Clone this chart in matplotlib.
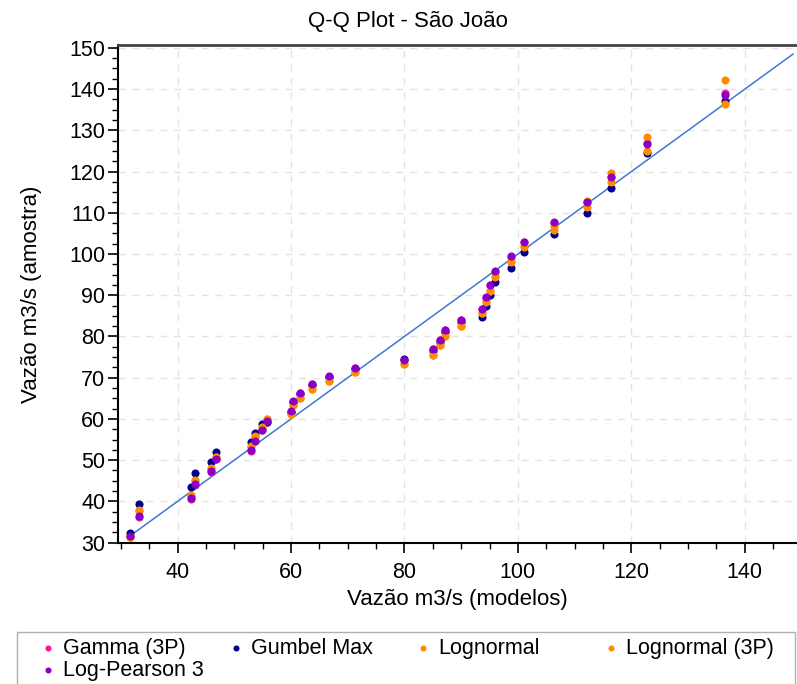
import matplotlib
matplotlib.use("Agg")
import matplotlib.pyplot as plt
from matplotlib.ticker import MultipleLocator
from matplotlib.patches import Rectangle

plt.rcParams['font.family'] = ['Liberation Sans', 'DejaVu Sans']

# ---- data ----
x_model = [31.7, 33.2, 42.3, 43.0, 45.9, 46.8, 52.9, 53.6, 54.9, 55.7,
           60.05, 60.3, 61.5, 63.7, 66.7, 71.2, 80.0, 85.0, 86.2, 87.2,
           89.9, 93.6, 94.4, 95.0, 95.9, 98.7, 101.1, 106.3, 112.1, 116.4,
           122.8, 136.5]

gamma_3p = [31.4, 36.3, 40.5, 44.0, 47.1, 50.2, 52.3, 54.6, 57.3, 59.3,
            61.6, 64.1, 66.2, 68.4, 70.2, 72.3, 74.3, 76.9, 79.1, 81.5,
            84.0, 86.6, 89.4, 92.4, 95.7, 99.3, 102.9, 107.6, 112.7, 118.7,
            126.9, 139.0]

gumbel_max = [32.3, 39.45, 43.5, 46.9, 49.5, 52.0, 54.4, 56.6, 58.8, 59.2,
              61.6, 64.0, 66.0, 68.3, 70.1, 72.2, 74.5, 76.4, 78.6, 81.0,
              83.5, 84.7, 87.45, 90.1, 93.3, 96.7, 100.6, 104.8, 109.9, 116.1,
              124.5, 137.0]

lognormal = [31.4, 38.0, 41.6, 45.3, 48.1, 50.8, 53.5, 55.8, 58.0, 60.0,
             61.3, 63.4, 65.1, 67.3, 69.3, 71.5, 73.4, 75.6, 78.0, 80.2,
             82.6, 85.7, 88.5, 91.1, 94.7, 98.2, 102.0, 106.7, 112.9, 119.6,
             128.35, 142.2]

lognormal_3p = [31.4, 37.6, 41.4, 45.0, 47.9, 50.7, 53.3, 55.6, 57.9, 59.9,
                61.2, 63.3, 65.0, 67.2, 69.2, 71.4, 73.3, 75.5, 77.9, 80.1,
                82.5, 85.6, 88.4, 91.0, 94.5, 98.0, 101.6, 105.9, 111.5, 117.4,
                124.9, 136.4]

log_pearson3 = [31.5, 36.4, 40.7, 44.2, 47.3, 50.3, 52.5, 54.7, 57.4, 59.4,
                61.8, 64.25, 66.3, 68.5, 70.3, 72.35, 74.4, 77.0, 79.2, 81.6,
                84.1, 86.7, 89.5, 92.5, 95.8, 99.4, 103.0, 107.65, 112.7, 118.65,
                126.7, 138.6]

ref_line = [31.5, 148.5]

series = [
    ("Gamma (3P)", gamma_3p, "#FF1493"),
    ("Gumbel Max", gumbel_max, "#00008B"),
    ("Lognormal", lognormal, "#FF8C00"),
    ("Lognormal (3P)", lognormal_3p, "#FF8C00"),
    ("Log-Pearson 3", log_pearson3, "#8A00C8"),
]

FS = 15.5
FL = 16

W, H = 797, 684
fig = plt.figure(figsize=(W/100, H/100), dpi=100)
ax = fig.add_axes([118/W, 1-543/H, 1-118/W, (543-45)/H])

ax.plot(ref_line, ref_line, color="#3F78D0", lw=1.1, zorder=2)
handles = {}
for name, ys, col in series:
    handles[name] = ax.scatter(x_model, ys, s=34, color=col, label=name, zorder=3, linewidths=0)

ax.set_xlim(29.5, 149.2)
ax.set_ylim(29.9, 150.7)
ax.xaxis.set_major_locator(MultipleLocator(20))
ax.xaxis.set_minor_locator(MultipleLocator(5))
ax.yaxis.set_major_locator(MultipleLocator(10))
ax.yaxis.set_minor_locator(MultipleLocator(2.5))
ax.grid(True, which="major", color="#E3E3E3", linestyle=(0, (5, 5)), lw=1.0)
ax.set_axisbelow(True)

ax.tick_params(which="major", direction="out", length=7, width=1.2, labelsize=FS, colors="black")
ax.tick_params(which="minor", direction="out", length=4, width=1.0)
ax.tick_params(axis="x", pad=7)
ax.tick_params(axis="y", pad=2)
ax.spines["right"].set_visible(False)
ax.spines["top"].set_color("#444444")
ax.spines["top"].set_linewidth(2)
for s in ("left", "bottom"):
    ax.spines[s].set_color("black")
    ax.spines[s].set_linewidth(1.5)

ax.set_xlabel("Vazão m3/s (modelos)", fontsize=FL, labelpad=4)
ax.set_ylabel("Vazão m3/s (amostra)", fontsize=FL, labelpad=20)
fig.text(0.512, 1-22/H, "Q-Q Plot - São João", ha="center", va="center", fontsize=FL)

# legend: frame + four equal-width columns
fig.patches.append(Rectangle((17/W, -0.05), (795-17)/W, (1-632/H) + 0.05,
                             transform=fig.transFigure, fill=False,
                             edgecolor="#B0B0B0", lw=1.0))
columns = [["Gamma (3P)", "Log-Pearson 3"], ["Gumbel Max"], ["Lognormal"], ["Lognormal (3P)"]]
dot_px = [48, 235.7, 423.3, 611]
for names, dx in zip(columns, dot_px):
    fig.legend([handles[n] for n in names], names,
               loc="upper left", bbox_to_anchor=((dx - 8.6)/W, 1-638/H),
               frameon=False, fontsize=FS, handlelength=0.8, handletextpad=0.3,
               borderpad=0, borderaxespad=0, labelspacing=0.05, markerscale=0.75)

fig.savefig("out.png", dpi=100)
